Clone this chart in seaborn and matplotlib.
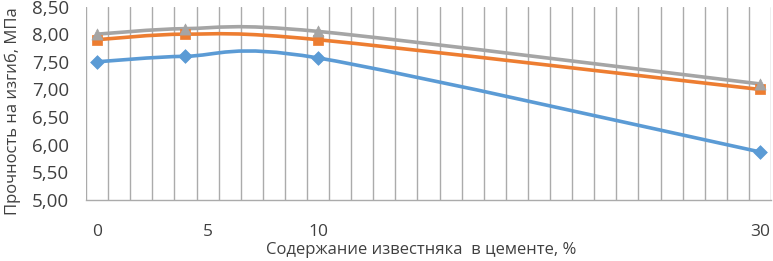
import numpy as np
import pandas as pd
import matplotlib
matplotlib.use("Agg")
import matplotlib.pyplot as plt
from matplotlib.path import Path
from matplotlib.patches import PathPatch
import seaborn as sns

# ---- data ----
x_values = [0, 4, 10, 30]
series_names = ["s1", "s2", "s3"]
blue_values = [7.50, 7.60, 7.57, 5.87]
orange_values = [7.90, 8.00, 7.90, 7.00]
gray_values = [8.00, 8.10, 8.05, 7.10]
xtick_values = [0, 5, 10, 30]
xtick_labels = ["0", "5", "10", "30"]
ytick_values = [5.0, 5.5, 6.0, 6.5, 7.0, 7.5, 8.0, 8.5]
x_label = "Содержание известняка  в цементе, %"
y_label = "Прочность на изгиб, МПа"

colors = ["#5B9BD5", "#ED7D31", "#A5A5A5"]
markers = ["D", "s", "^"]
msizes = [7, 7, 8]

sns.set_theme(style="white")
plt.rcParams['font.family'] = ['Open Sans', 'DejaVu Sans']

fig = plt.figure(figsize=(7.73, 2.61), dpi=100)
ax = fig.add_axes([0.1113, 0.2337, 0.9974 - 0.1113, 0.975 - 0.2337])

df = pd.DataFrame({
    "x": x_values * 3,
    "y": blue_values + orange_values + gray_values,
    "s": [n for n in series_names for _ in x_values],
})


def smooth_path(xs, ys, k=0.15):
    # Excel-style smoothed line through the data points (cubic Bezier)
    pts = np.column_stack([xs, ys]).astype(float)
    n = len(pts)
    verts = [pts[0]]
    codes = [Path.MOVETO]
    for i in range(n - 1):
        p0 = pts[i - 1] if i > 0 else pts[i]
        p1 = pts[i]
        p2 = pts[i + 1]
        p3 = pts[i + 2] if i + 2 < n else pts[i + 1]
        c1 = p1 + (p2 - p0) * k
        c2 = p2 - (p3 - p1) * k
        verts += [c1, c2, p2]
        codes += [Path.CURVE4] * 3
    return Path(verts, codes)


for name, col in zip(series_names, colors):
    sub = df[df.s == name]
    ax.add_patch(PathPatch(smooth_path(sub.x.values, sub.y.values),
                           facecolor="none", edgecolor=col, lw=2.6,
                           capstyle="round", joinstyle="round", zorder=3))

for name, col, mk, ms in zip(series_names, colors, markers, msizes):
    sub = df[df.s == name]
    sns.scatterplot(data=sub, x="x", y="y", ax=ax, color=col, marker=mk,
                    s=ms ** 2, edgecolor=col, linewidth=0.5, zorder=4,
                    legend=False)

ax.set_xlim(-0.5, 30.5)
ax.set_ylim(5.0, 8.5)
ax.set_xticks(xtick_values)
ax.set_xticklabels(xtick_labels)
ax.set_xticks(np.arange(-0.5, 31.0, 1.0), minor=True)
ax.set_yticks(ytick_values)
ax.set_yticklabels([f"{v:.2f}".replace(".", ",") for v in ytick_values])

ax.grid(False)
ax.grid(which="minor", axis="x", color="#ABABAB", lw=1.0)
ax.tick_params(which="both", length=0)
ax.tick_params(axis="x", pad=17, labelsize=12.5, colors="#404040")
ax.tick_params(axis="y", pad=12, labelsize=13.5, colors="#404040")

for sp in ["top", "right", "left"]:
    ax.spines[sp].set_visible(False)
ax.spines["bottom"].set_color("#ABABAB")
ax.spines["bottom"].set_linewidth(1.0)

ax.set_xlabel(x_label, fontsize=12, color="#404040")
ax.set_ylabel(y_label, fontsize=12, color="#404040")
ax.xaxis.set_label_coords(0.49, -0.215)
ax.yaxis.set_label_coords(-0.095, 0.46)

fig.savefig("out.png", dpi=100)
